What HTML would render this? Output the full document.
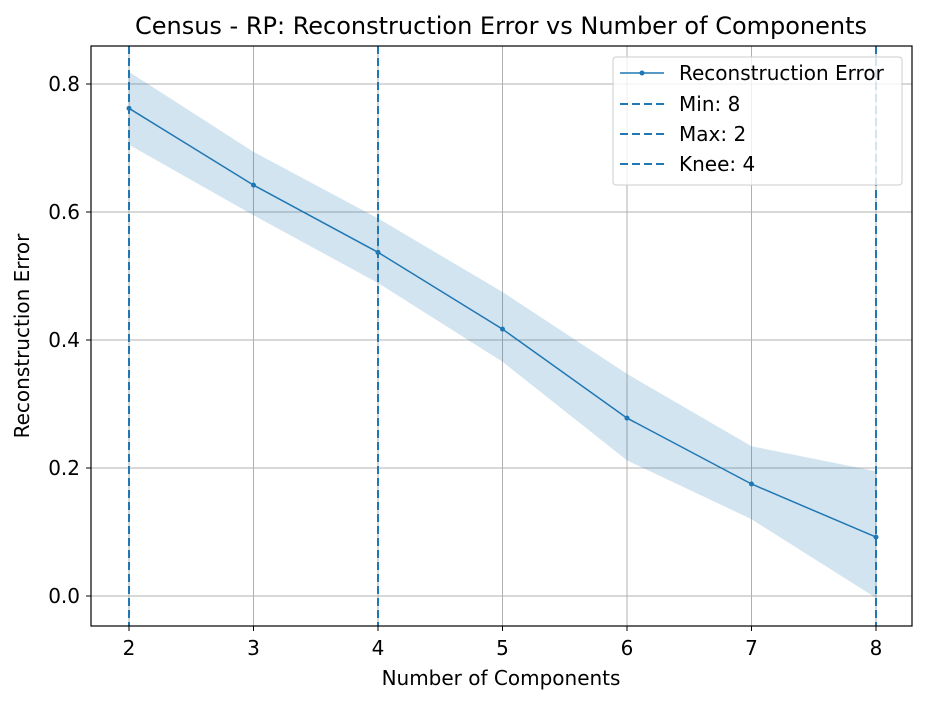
<!DOCTYPE html>
<html><head><meta charset="utf-8"><style>body{margin:0;background:#fff}svg{font-family:"DejaVu Sans","Liberation Sans",sans-serif}</style></head>
<body>
<svg id="chart" width="931" height="704">
<text x="501" y="34" font-size="24" text-anchor="middle">Census - RP: Reconstruction Error vs Number of Components</text>
<g id="grid"></g>
<g id="band"></g>
<g id="vlines"></g>
<g id="series"></g>
<rect x="91" y="46" width="821" height="580" fill="none" stroke="#000" stroke-width="1.2"/>
<g id="ticks" font-size="20"></g>
<text x="501" y="685" font-size="20" text-anchor="middle">Number of Components</text>
<text transform="translate(29,336) rotate(-90)" font-size="20" text-anchor="middle">Reconstruction Error</text>
<g>
<rect x="613" y="57" width="289" height="128" rx="3" fill="#fff" fill-opacity="0.8" stroke="#ccc"/>
<line x1="620" y1="73" x2="664" y2="73" stroke="#1f77b4" stroke-width="1.5"/><circle cx="642" cy="73" r="2.5" fill="#1f77b4"/>
<text x="679" y="80" font-size="20">Reconstruction Error</text>
<line x1="620" y1="104" x2="664" y2="104" stroke="#1f77b4" stroke-width="2" stroke-dasharray="8,4"/>
<text x="679" y="111" font-size="20">Min: 8</text>
<line x1="620" y1="134" x2="664" y2="134" stroke="#1f77b4" stroke-width="2" stroke-dasharray="8,4"/>
<text x="679" y="141" font-size="20">Max: 2</text>
<line x1="620" y1="164" x2="664" y2="164" stroke="#1f77b4" stroke-width="2" stroke-dasharray="8,4"/>
<text x="679" y="171" font-size="20">Knee: 4</text>
</g>
</svg>
<script>
const components=[2,3,4,5,6,7,8];
const meanErr=[0.762,0.642,0.537,0.417,0.278,0.175,0.092];
const upperErr=[0.819,0.694,0.590,0.475,0.347,0.234,0.195];
const lowerErr=[0.705,0.595,0.489,0.366,0.212,0.120,-0.003];
const markerComps=[8,2,4];
const xTicks=[2,3,4,5,6,7,8];
const yTicks=[0,0.2,0.4,0.6,0.8];
const ns="http://www.w3.org/2000/svg";
const X=v=>129+(v-2)*124.5, Y=v=>596-v*640;
function mk(t,a,p){const e=document.createElementNS(ns,t);for(const k in a)e.setAttribute(k,a[k]);document.getElementById(p).appendChild(e);return e;}
xTicks.forEach(t=>{
 const g=mk('line',{x1:X(t),x2:X(t),y1:46,y2:626,stroke:'#b0b0b0','stroke-width':1},'grid');
 
 
 mk('line',{x1:X(t),x2:X(t),y1:626,y2:631,stroke:'#000'},'ticks');
 const l=mk('text',{x:X(t),y:655,'text-anchor':'middle'},'ticks');l.textContent=t;
 
 
});
yTicks.forEach(t=>{
 const g=mk('line',{x1:91,x2:912,y1:Y(t),y2:Y(t),stroke:'#b0b0b0','stroke-width':1},'grid');
 
 
 mk('line',{x1:86,x2:91,y1:Y(t),y2:Y(t),stroke:'#000'},'ticks');
 const l=mk('text',{x:80,y:Y(t)+7,'text-anchor':'end'},'ticks');l.textContent=t.toFixed(1);
 
 
});
let pts=components.map((c,i)=>X(c)+','+Y(upperErr[i]));
for(let i=components.length-1;i>=0;i--)pts.push(X(components[i])+','+Y(lowerErr[i]));
const band=mk('polygon',{points:pts.join(' '),fill:'#1f77b4','fill-opacity':0.2},'band');


markerComps.forEach(c=>{
 const v=mk('line',{x1:X(c),x2:X(c),y1:46,y2:626,stroke:'#1f77b4','stroke-width':2,'stroke-dasharray':'8,4'},'vlines');
 
 
});
const line=mk('polyline',{points:components.map((c,i)=>X(c)+','+Y(meanErr[i])).join(' '),fill:'none',stroke:'#1f77b4','stroke-width':1.5},'series');


components.forEach((c,i)=>{
 const p=mk('circle',{cx:X(c),cy:Y(meanErr[i]),r:2.5,fill:'#1f77b4'},'series');
 
 
});
</script>
</body></html>
